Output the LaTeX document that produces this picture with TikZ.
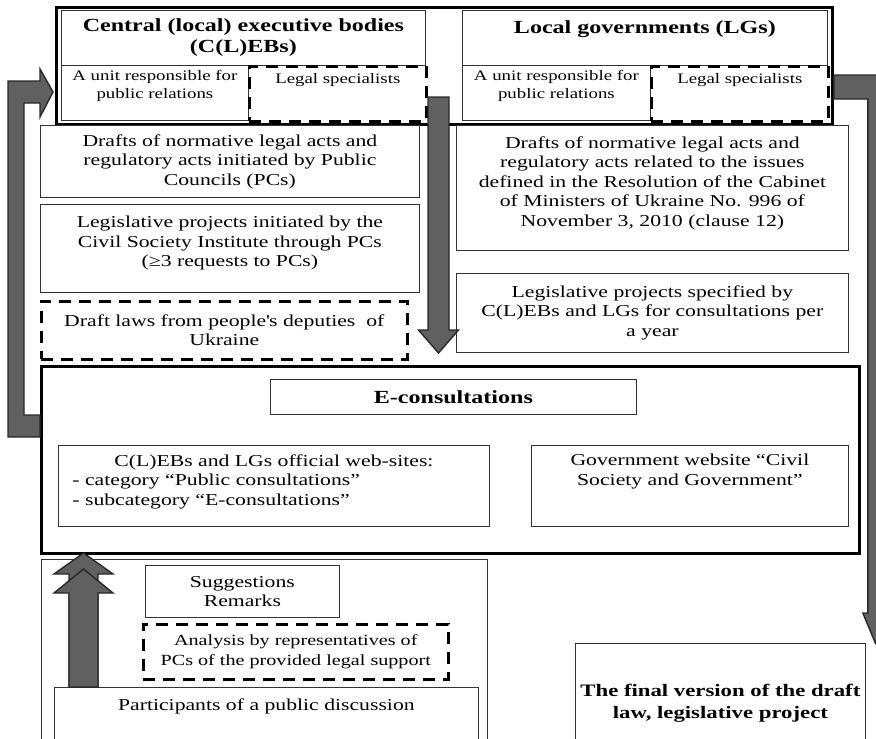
\documentclass[tikz,border=0pt]{standalone}
\usepackage{fontspec}
\setmainfont{Liberation Serif}[FakeStretch=1.3]
\usepackage{tikz}
\usetikzlibrary{calc}
\definecolor{arrowgray}{RGB}{96,96,96}
\definecolor{arrowedge}{RGB}{40,40,40}
\definecolor{boxline}{RGB}{50,50,50}
\newcommand{\bodyfont}{\fontsize{16.7}{19.5}\selectfont}
\newcommand{\headfont}{\fontsize{18.5}{21}\selectfont\bfseries}
\newcommand{\smallfont}{\fontsize{15.5}{20}\selectfont}
\newcommand{\unitfont}{\fontsize{14.5}{18}\selectfont}
\newcommand{\finalfont}{\fontsize{17.5}{22}\selectfont\bfseries}
\newcommand{\cbox}[4][c]{\parbox[c][#3][#1]{#2}{\centering #4\par}}

\begin{document}
\begin{tikzpicture}[x=1pt, y=-1pt,
    box/.style={draw=boxline, line width=0.8pt, inner sep=0pt, anchor=north west, font=\bodyfont},
    dbox/.style={draw=black, line width=2.6pt, dash pattern=on 12pt off 8pt, inner sep=0pt, anchor=north west, font=\bodyfont},
    frame/.style={draw=black, line width=2.8pt, inner sep=0pt, anchor=north west},
    fatarrow/.style={fill=arrowgray, draw=arrowedge, line width=1.4pt, line join=miter}]
    \clip (0,0) rectangle (876,739);

    % Executive bodies and local governments
    \node[frame, minimum width=776pt, minimum height=117pt] (org) at (55,6) {};
    \node[box, font=\headfont] (clebs) at (61,10) {\cbox{364pt}{55pt}{Central (local) executive bodies\\(C(L)EBs)}};
    \node[box, font=\unitfont] (clebsunit) at (61,65) {\cbox[t]{187pt}{55pt}{\vspace*{5pt}A unit responsible for\\public relations}};
    \node[dbox, font=\unitfont] (clebslegal) at (248,65) {\cbox[t]{177pt}{55pt}{\vspace*{7pt}Legal specialists}};
    \node[box, font=\headfont] (lgs) at (462,10) {\cbox[t]{365pt}{55pt}{\vspace*{10pt}Local governments (LGs)}};
    \node[box, font=\unitfont] (lgsunit) at (462,65) {\cbox[t]{188pt}{55pt}{\vspace*{5pt}A unit responsible for\\public relations}};
    \node[dbox, font=\unitfont] (lgslegal) at (650,65) {\cbox[t]{177pt}{55pt}{\vspace*{7pt}Legal specialists}};

    % Drafts (left column)
    \node[box] (pcdrafts) at (40,125) {\cbox{379pt}{72pt}{Drafts of normative legal acts and\\regulatory acts initiated by Public\\Councils (PCs)}};
    \node[box] (csiprojects) at (40,204) {\cbox[t]{379pt}{88pt}{\vspace*{12pt}Legislative projects initiated by the\\Civil Society Institute through PCs\\(≥3 requests to PCs)}};
    \node[dbox] (deputies) at (40,300) {\cbox{366pt}{58pt}{Draft laws from people\textquotesingle s deputies~ of\\Ukraine}};

    % Drafts (right column)
    \node[box] (cmudrafts) at (456,125) {\cbox[t]{392pt}{125pt}{\vspace*{11pt}Drafts of normative legal acts and\\regulatory acts related to the issues\\defined in the Resolution of the Cabinet\\of Ministers of Ukraine No. 996 of\\November 3, 2010 (clause 12)}};
    \node[box] (plannedprojects) at (456,273) {\cbox{392pt}{79pt}{Legislative projects specified by\\C(L)EBs and LGs for consultations per\\a year}};

    % E-consultations
    \node[frame, minimum width=818pt, minimum height=187pt] (econs) at (40,365) {};
    \node[box, font=\headfont] (etitle) at (270,379) {\cbox{366pt}{35pt}{E-consultations}};
    \node[box] (websites) at (58,445) {\cbox[t]{431pt}{81pt}{\vspace*{9pt}C(L)EBs and LGs official web-sites:\par\raggedright\leftskip=14pt - category “Public consultations”\\- subcategory “E-consultations”}};
    \node[box] (govsite) at (531,445) {\cbox[t]{317pt}{81pt}{\vspace*{9pt}Government website “Civil\\Society and Government”}};

    % Public discussion
    \node[box, minimum width=446pt, minimum height=200pt] (discussion) at (41,559) {};
    \node[box] (remarks) at (145,565) {\cbox{194pt}{52pt}{Suggestions\\Remarks}};
    \node[dbox, font=\smallfont] (analysis) at (142,623) {\cbox{305pt}{55pt}{Analysis by representatives of\\PCs of the provided legal support}};
    \node[box] (participants) at (54,687) {\cbox[t]{424pt}{80pt}{\vspace*{11pt}Participants of a public discussion}};
    \node[box, font=\finalfont] (finalversion) at (575,643) {\cbox{290pt}{120pt}{The final version of the draft\\law, legislative project}\hspace{20pt}};

    % Fat arrows
    \draw[fatarrow] ([yshift=-50pt]econs.north west) -- ++(-16,0) -- ++(0,-312) -- ++(16,0) -- ++(0,14)
        -- ++(13,-25) -- ++(-13,-23) -- ++(0,12) -- ++(-32,0) -- ++(0,356) -- ++(32,0) -- cycle;
    \draw[fatarrow] (428,97) -- ++(21,0) -- ++(0,233) -- ++(9.5,0) -- ++(-20,23) -- ++(-20,-23) -- ++(9.5,0) -- cycle;
    \draw[fatarrow] ([yshift=-69pt]org.north east) -- ++(49,0) -- ++(0,538) -- ++(5,0) -- ++(-12.5,30)
        -- ++(-12.5,-30) -- ++(5,0) -- ++(0,-514) -- ++(-34,0) -- cycle;
    \draw[fatarrow] ([xshift=15pt]participants.north west) -- ++(0,-113) -- ++(-15,0) -- ++(29.5,-21)
        -- ++(29.5,21) -- ++(-15,0) -- ++(0,113) -- cycle;
    \draw[fatarrow] ([xshift=15pt]participants.north west) -- ++(0,-94) -- ++(-15,0) -- ++(29.5,-24)
        -- ++(29.5,24) -- ++(-15,0) -- ++(0,94) -- cycle;
\end{tikzpicture}
\end{document}
